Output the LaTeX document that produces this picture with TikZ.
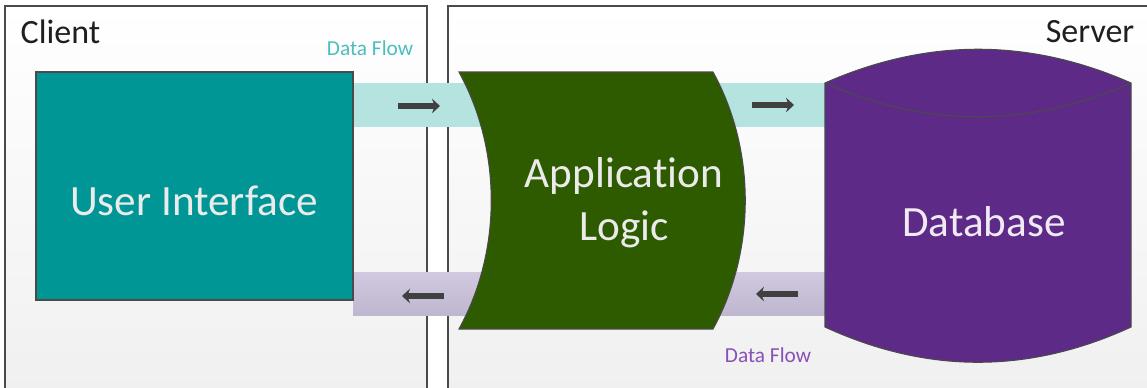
\documentclass[tikz,border=0pt]{standalone}
\usepackage{fontspec}
\setmainfont{Carlito}[Ligatures={NoCommon}]
\usetikzlibrary{arrows.meta,shadings}
\definecolor{uiteal}{HTML}{009696}
\definecolor{bandteal}{HTML}{B4E3E0}
\definecolor{bandlilac}{HTML}{C9C0DA}
\definecolor{logicgreen}{HTML}{2E5B00}
\definecolor{dbpurple}{HTML}{5E2A88}
\definecolor{flowteal}{HTML}{4DBDBD}
\definecolor{flowpurple}{HTML}{8A50B5}
\definecolor{edgegray}{HTML}{4A4A4A}
\tikzset{
	panel/.style={draw=edgegray, line width=0.9pt, top color=white, bottom color=black!6},
	block/.style={draw=edgegray, line width=0.8pt},
	bigtext/.style={text=white!92!black, font=\fontsize{32.4}{40}\selectfont, align=center},
	paneltitle/.style={text=black!88, font=\fontsize{25.5}{30}\selectfont},
	flowtext/.style={font=\fontsize{16}{19}\selectfont},
	flowarrow/.style={draw=black!75, line width=4.2pt, -{Stealth[length=6pt,width=11pt,inset=2pt]}}
}
\begin{document}
\begin{tikzpicture}[x=0.75pt,y=-0.75pt]
	\useasboundingbox (0,0) rectangle (1147,387);
	% panels
	\path[panel] (5,400) -- (5,6) -- (427,6) -- (427,400);
	\path[panel] (448,400) -- (448,6) -- (1160,6) -- (1160,400);
	\node[paneltitle, anchor=west] (client) at (16,32) {Client};
	\node[paneltitle, anchor=east] (server) at (1139,32) {Server};
	% bands
	\fill[bandteal] (353,83) rectangle (826,127);
	\fill[top color=bandlilac!85!white, bottom color=bandlilac!95!black] (353,272) rectangle (826,315);
	\node[flowtext, text=flowteal] (flowup) at (370,48) {Data Flow};
	\node[flowtext, text=flowpurple] (flowdown) at (768,355) {Data Flow};
	% blocks
	\draw[block, fill=uiteal] (36,72) rectangle (353,300);
	\node[bigtext] (ui) at (194,201) {User Interface};
	\draw[block, fill=logicgreen] (459,72) -- (713,72)
		.. controls (756,150) and (756,251) .. (713,329) -- (459,329)
		.. controls (502,251) and (502,150) .. (459,72) -- cycle;
	\node[bigtext] (logic) at (624,203) {Application\\Logic};
	\draw[block, fill=dbpurple] (825,83) -- (825,327)
		.. controls (927,374) and (1029,374) .. (1131,327) -- (1131,83)
		.. controls (1029,38) and (927,38) .. (825,83) -- cycle;
	\draw[block] (825,83) .. controls (927,128) and (1029,128) .. (1131,83);
	\node[bigtext, text=dbpurple!10!white] (db) at (984,222) {Database};
	% arrows
	\draw[flowarrow] (398,106) -- (440,106);
	\draw[flowarrow] (752,105) -- (794,105);
	\draw[flowarrow] (444,296) -- (402,296);
	\draw[flowarrow] (798,294) -- (756,294);
\end{tikzpicture}
\end{document}
